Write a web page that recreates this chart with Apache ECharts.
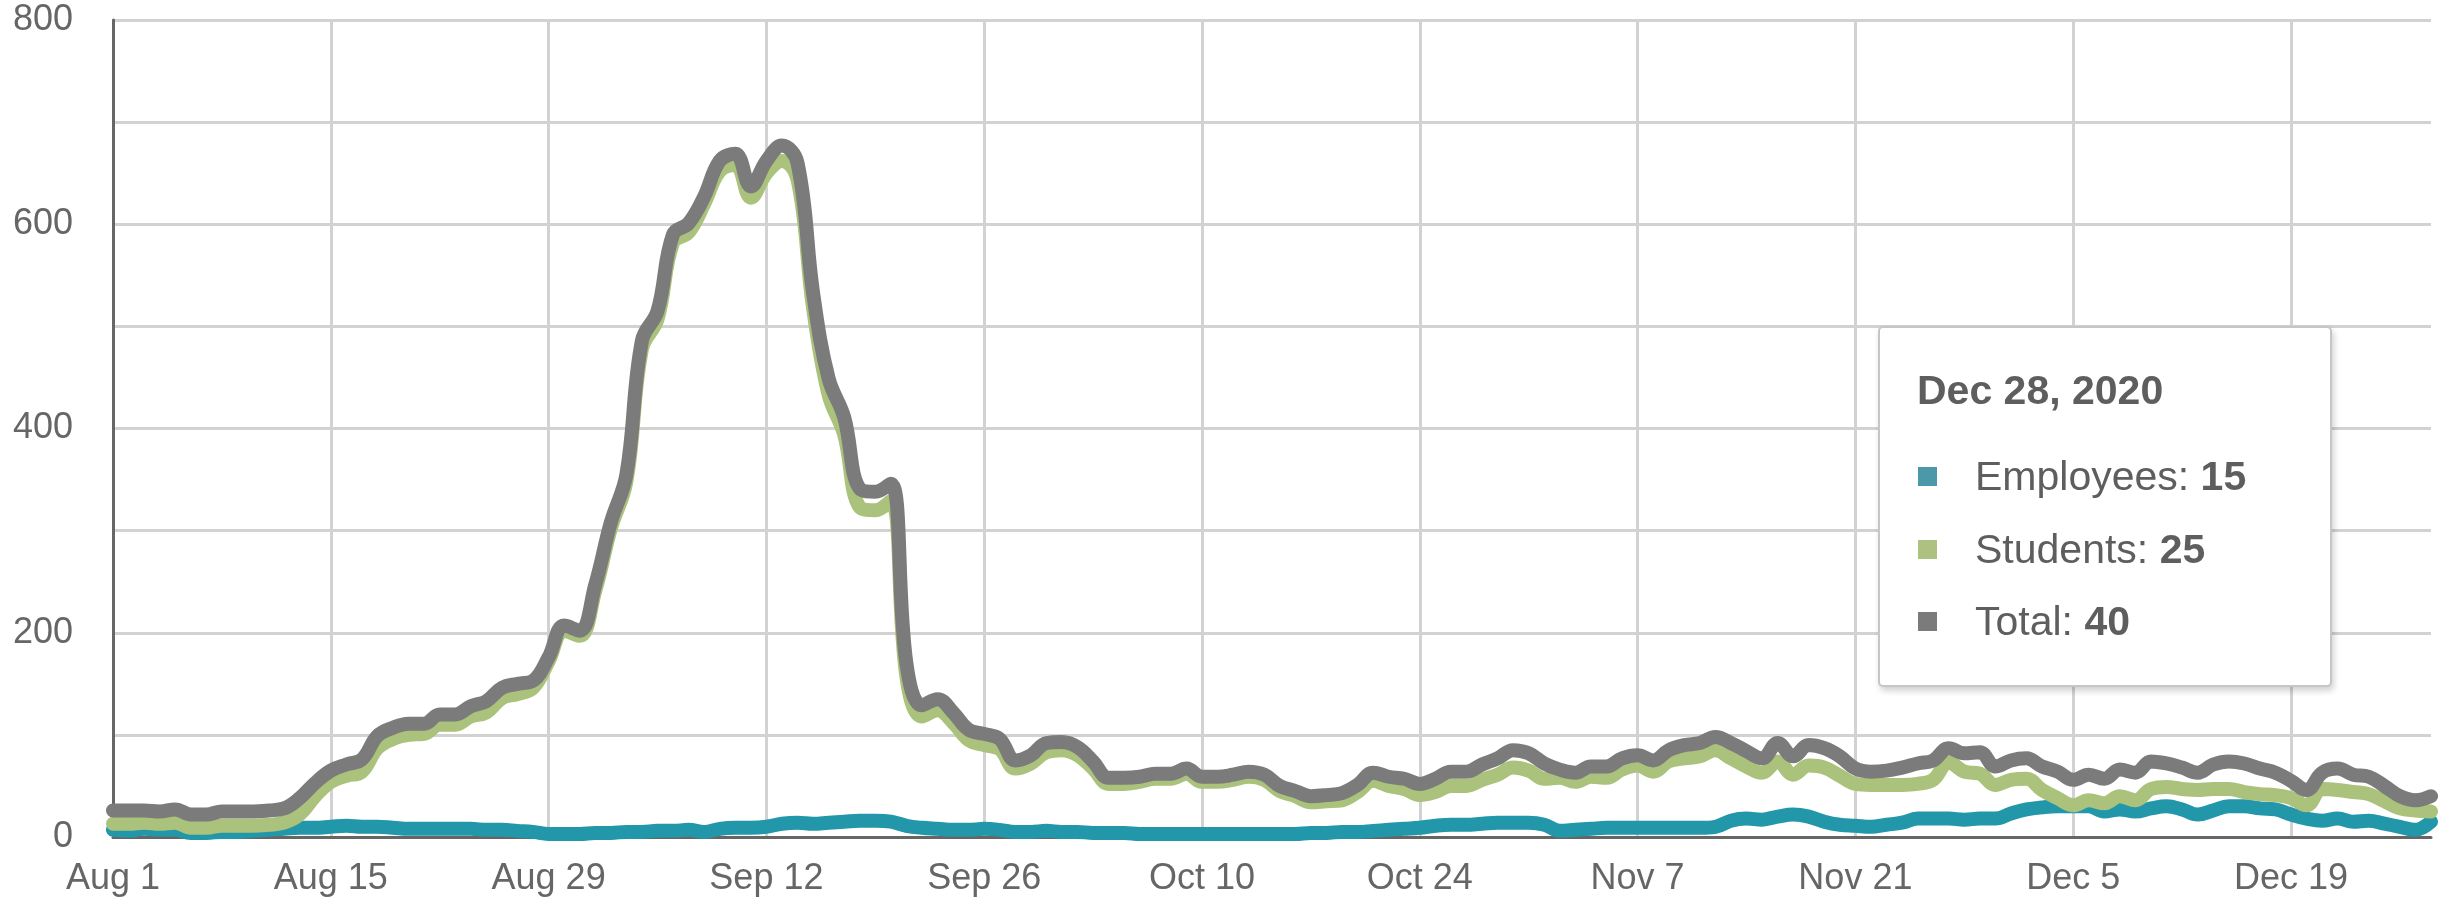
<!DOCTYPE html>
<html>
<head>
<meta charset="utf-8">
<script src="https://cdn.jsdelivr.net/npm/echarts@6/dist/echarts.min.js"></script>
<style>
  html, body { margin: 0; padding: 0; background: #fff; }
  #chart { width: 2455px; height: 905px; }
</style>
</head>
<body>
<div id="chart"></div>
<script>
// daily values, Aug 1 - Dec 28 2020
const employees = [
  7, 6, 8, 7, 7, 4, 4, 5, 5, 6, 7, 8, 9, 9, 10, 11, 10, 10, 9, 8, 8, 8, 8, 8, 7, 7, 6,
  5, 3, 3, 3, 4, 4, 5, 5, 6, 6, 7, 5, 8, 9, 9, 10, 13, 14, 13, 14, 15, 16, 16, 15, 11, 9,
  8, 7, 7, 8, 7, 5, 5, 6, 5, 5, 4, 4, 4, 3, 3, 3, 3, 3, 3, 3, 3, 3, 3, 3,
  4, 4, 5, 5, 6, 7, 8, 9, 11, 12, 12, 13, 14, 14, 14, 12, 6, 7, 8, 9, 9, 9, 9, 9, 9, 9,
  10, 16, 18, 17, 20, 22, 20, 15, 12, 11, 10, 12, 14, 18, 18, 18, 17, 18, 18, 23, 27, 29, 30, 30, 30,
  25, 27, 25, 28, 30, 27, 22, 26, 30, 30, 28, 27, 22, 18, 16, 18, 15, 16, 13, 10, 7, 15
]
const students = [
  13, 13, 14, 13, 14, 9, 9, 11, 11, 11, 12, 14, 22, 40, 54, 60, 64, 87, 96, 100, 101, 110, 110, 118, 122, 136, 140,
  146, 172, 202, 197, 241, 302, 348, 478, 507, 582, 592, 620, 652, 658, 626, 650, 662, 644, 518, 433, 394, 323, 320, 329, 157, 118,
  124, 112, 95, 90, 86, 67, 72, 83, 85, 80, 67, 52, 52, 54, 57, 57, 62, 54, 54, 56, 59, 56, 45, 40,
  34, 35, 36, 44, 55, 50, 47, 41, 44, 50, 50, 56, 61, 68, 65, 57, 58, 54, 59, 58, 66, 70, 64, 74, 77, 79,
  85, 77, 69, 63, 74, 61, 70, 68, 60, 52, 51, 51, 51, 52, 56, 73, 64, 62, 51, 56, 57, 46, 38, 31, 36,
  33, 40, 36, 47, 49, 47, 46, 47, 47, 44, 42, 41, 38, 31, 47, 46, 44, 42, 35, 28, 26, 25
]
const total = [
  26, 26, 26, 25, 27, 22, 22, 25, 25, 25, 26, 28, 38, 53, 65, 71, 76, 99, 107, 111, 111, 120, 120, 128, 133, 146, 150,
  153, 176, 207, 202, 247, 308, 355, 486, 515, 590, 601, 627, 662, 669, 637, 662, 677, 660, 533, 449, 411, 341, 338, 346, 170, 129,
  135, 122, 105, 101, 96, 75, 80, 92, 93, 88, 74, 58, 58, 59, 62, 62, 67, 59, 59, 61, 64, 61, 50, 45,
  40, 41, 43, 51, 63, 59, 57, 52, 57, 64, 64, 71, 77, 85, 82, 72, 66, 63, 69, 69, 77, 80, 75, 85, 90, 92,
  98, 92, 84, 77, 92, 79, 90, 87, 79, 67, 64, 65, 68, 72, 75, 87, 82, 83, 69, 75, 77, 69, 64, 56, 61,
  57, 66, 63, 74, 72, 68, 63, 71, 74, 72, 67, 63, 55, 46, 63, 67, 61, 59, 50, 40, 36, 40
]
const seriesNames = ['Employees', 'Students', 'Total']
const lineColors = ['#2297a9', '#aac27b', '#7b7b7b']
const markerColors = ['#4b98aa', '#adc280', '#7b7b7b']
const yLabels = [0, 200, 400, 600, 800]
const tickEvery = 14 // a label and grid line every two weeks

// x categories: one per day starting Aug 1, 2020
const monthNames = ['Jan', 'Feb', 'Mar', 'Apr', 'May', 'Jun', 'Jul', 'Aug', 'Sep', 'Oct', 'Nov', 'Dec']
const categories = []
const fullDates = []
for (let i = 0; i < total.length; i++) {
  const d = new Date(2020, 7, 1 + i)
  categories.push(monthNames[d.getMonth()] + ' ' + d.getDate())
  fullDates.push(monthNames[d.getMonth()] + ' ' + d.getDate() + ', ' + d.getFullYear())
}

const font = "'Liberation Sans', Arial, sans-serif"
const chart = echarts.init(document.getElementById('chart'))

const tipHtml = (params) => {
  const idx = params[0].dataIndex
  let html = '<div style="box-sizing:border-box;width:454px;height:361px;padding:42px 0 0 37px;' +
    'background:#fff;border:2px solid #c6c6c6;border-radius:5px;box-shadow:2px 4px 6px rgba(0,0,0,0.18);' +
    'font-family:' + font + ';color:#5e5e5e;">'
  html += '<div style="font-weight:bold;font-size:41px;line-height:41px;height:41px;">' + fullDates[idx] + '</div>'
  const gaps = [45, 32, 31]
  params.forEach((p, i) => {
    html += '<div style="margin-top:' + gaps[i] + 'px;display:flex;align-items:center;font-size:41px;line-height:41px;height:41px;white-space:nowrap;">' +
      '<span style="display:inline-block;width:19px;height:19px;margin-left:1px;margin-right:38px;background:' + markerColors[p.seriesIndex] + ';"></span>' +
      '<span>' + p.seriesName + ': <b>' + p.value + '</b></span></div>'
  })
  html += '</div>'
  return html
}

const onTick = (idx) => idx % tickEvery === 0

const option = {
  animation: false,
  grid: { left: 113, right: 24, top: 20, bottom: 68, containLabel: false },
  tooltip: {
    trigger: 'axis',
    triggerOn: 'none',
    alwaysShowContent: true,
    transitionDuration: 0,
    axisPointer: { type: 'none' },
    padding: 0,
    borderWidth: 0,
    backgroundColor: 'transparent',
    extraCssText: 'box-shadow:none;',
    position: () => [1878, 326],
    formatter: tipHtml
  },
  xAxis: {
    type: 'category',
    data: categories,
    boundaryGap: false,
    axisLine: { show: true, lineStyle: { color: '#666', width: 3 } },
    axisTick: { show: false },
    axisLabel: {
      interval: onTick,
      margin: 24,
      fontSize: 36,
      color: '#666',
      fontFamily: font
    },
    splitLine: { show: true, interval: onTick, lineStyle: { color: '#d2d2d2', width: 3 } }
  },
  yAxis: {
    type: 'value',
    min: 0,
    max: 800,
    interval: 100,
    axisLine: { show: true, lineStyle: { color: '#666', width: 3 } },
    axisTick: { show: false },
    axisLabel: {
      margin: 40,
      fontSize: 36,
      color: '#666',
      fontFamily: font,
      formatter: v => (yLabels.includes(v) ? String(v) : '')
    },
    splitLine: { show: true, lineStyle: { color: '#d2d2d2', width: 3 } }
  },
  series: [employees, students, total].map((vals, i) => ({
    name: seriesNames[i],
    type: 'line',
    data: vals,
    symbol: 'none',
    smooth: 0.4,
    clip: false,
    lineStyle: { color: lineColors[i], width: 14, cap: 'round', join: 'round' },
    itemStyle: { color: lineColors[i] },
    emphasis: { disabled: true }
  }))
}

chart.setOption(option)
chart.dispatchAction({ type: 'showTip', seriesIndex: 0, dataIndex: total.length - 1 })
</script>
</body>
</html>
